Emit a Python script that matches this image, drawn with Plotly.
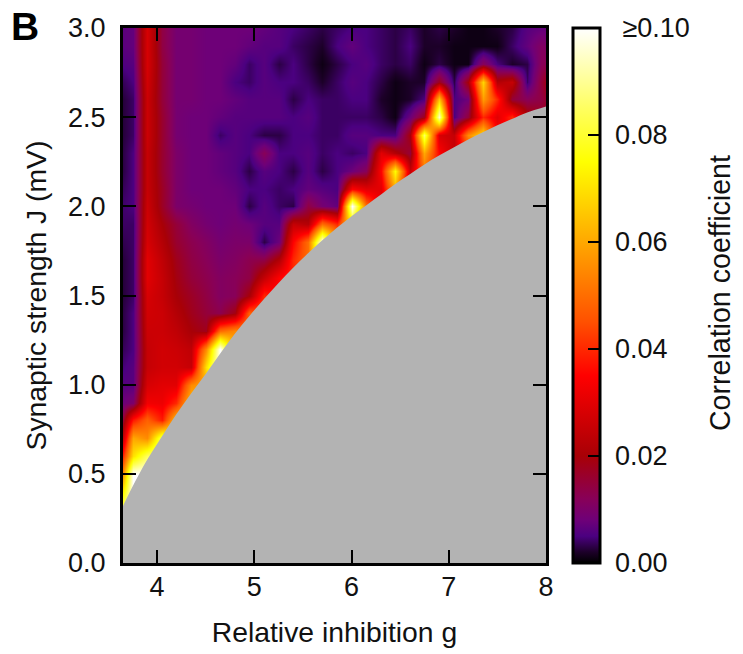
import numpy as np
import plotly.graph_objects as go

# Relative inhibition g (columns) and synaptic strength J (rows, top to bottom)
g_values = [3.6,3.75,3.9,4.05,4.2,4.35,4.5,4.65,4.8,4.95,5.1,5.25,5.4,5.55,5.7,5.85,6.0,6.15,6.3,6.45,6.6,6.75,6.9,7.05,7.2,7.35,7.5,7.65,7.8,7.95,8.1]
J_values = [3.0,2.9,2.8,2.7,2.6,2.5,2.4,2.3,2.2,2.1,2.0,1.9,1.8,1.7,1.6,1.5,1.4,1.3,1.2,1.1,1.0,0.9,0.8,0.7,0.6,0.5,0.4,0.3]

# Correlation coefficient x 1000
corr_milli = [
[6,7,28,14,9,9,8,8,8,8,7,6,5,4,3,4,5,5,4,3,4,2,3,2,1,1,2,3,6,7,7],
[6,7,28,14,9,9,8,8,8,7,6,6,4,3,2,5,7,5,4,3,5,2,2,1,1,1,1,4,7,11,10],
[5,6,28,15,9,9,8,8,7,4,6,3,5,3,1,3,5,6,4,3,4,1,3,1,1,12,5,2,3,12,14],
[3,5,27,15,9,9,8,8,5,4,6,5,5,4,2,4,6,5,3,1,2,2,18,3,20,68,22,25,4,15,25],
[2,4,26,15,9,9,8,8,7,6,6,6,3,5,4,4,5,5,2,1,2,5,65,5,8,58,40,15,12,14,20],
[2,4,26,16,9,8,8,7,6,6,6,6,5,6,4,4,4,4,3,1,8,18,95,5,15,40,30,40,22,18,18],
[2,4,26,16,9,8,8,4,6,5,3,3,5,5,4,4,6,6,5,5,20,85,28,25,55,70,35,35,25,20,20],
[2,5,25,16,10,8,8,7,6,5,12,5,5,6,4,5,4,5,30,22,15,60,35,25,40,55,35,35,25,20,20],
[2,5,25,16,10,8,8,7,6,3,6,5,3,6,3,5,8,12,35,75,25,50,35,25,40,55,35,35,25,20,20],
[3,5,25,17,10,8,8,8,7,5,5,4,5,7,6,5,35,30,30,60,25,50,35,25,40,55,35,35,25,20,20],
[4,5,26,17,10,9,8,8,8,3,6,4,3,14,9,7,100,50,30,60,25,50,35,25,40,55,35,35,25,20,20],
[4,4,27,20,15,11,9,8,9,8,6,6,25,22,50,40,70,50,30,60,25,50,35,25,40,55,35,35,25,20,20],
[3,4,28,22,16,13,11,9,10,10,3,8,35,50,100,60,70,50,30,60,25,50,35,25,40,55,35,35,25,20,20],
[2,4,30,24,18,14,12,10,11,13,14,22,40,50,100,60,70,50,30,60,25,50,35,25,40,55,35,35,25,20,20],
[2,4,30,25,19,15,13,11,12,14,25,35,40,50,100,60,70,50,30,60,25,50,35,25,40,55,35,35,25,20,20],
[2,4,28,25,20,17,14,11,12,20,40,35,40,50,100,60,70,50,30,60,25,50,35,25,40,55,35,35,25,20,20],
[2,5,27,26,22,18,15,13,19,48,45,35,40,50,100,60,70,50,30,60,25,50,35,25,40,55,35,35,25,20,20],
[2,5,26,26,24,20,18,50,55,50,45,35,40,50,100,60,70,50,30,60,25,50,35,25,40,55,35,35,25,20,20],
[3,5,25,27,26,24,55,100,60,50,45,35,40,50,100,60,70,50,30,60,25,50,35,25,40,55,35,35,25,20,20],
[4,6,25,27,27,25,70,100,60,50,45,35,40,50,100,60,70,50,30,60,25,50,35,25,40,55,35,35,25,20,20],
[6,6,28,30,30,55,60,100,60,50,45,35,40,50,100,60,70,50,30,60,25,50,35,25,40,55,35,35,25,20,20],
[7,10,33,32,40,65,60,100,60,50,45,35,40,50,100,60,70,50,30,60,25,50,35,25,40,55,35,35,25,20,20],
[5,38,48,38,65,65,60,100,60,50,45,35,40,50,100,60,70,50,30,60,25,50,35,25,40,55,35,35,25,20,20],
[8,60,55,85,70,65,60,100,60,50,45,35,40,50,100,60,70,50,30,60,25,50,35,25,40,55,35,35,25,20,20],
[25,70,85,90,70,65,60,100,60,50,45,35,40,50,100,60,70,50,30,60,25,50,35,25,40,55,35,35,25,20,20],
[35,100,100,90,70,65,60,100,60,50,45,35,40,50,100,60,70,50,30,60,25,50,35,25,40,55,35,35,25,20,20],
[60,100,100,90,70,65,60,100,60,50,45,35,40,50,100,60,70,50,30,60,25,50,35,25,40,55,35,35,25,20,20],
[80,100,100,90,70,65,60,100,60,50,45,35,40,50,100,60,70,50,30,60,25,50,35,25,40,55,35,35,25,20,20],
]

# Edge of the grey (excluded) region
boundary_g = [3.65,3.75,3.9,4.05,4.2,4.35,4.5,4.65,4.8,4.95,5.1,5.25,5.4,5.55,5.7,5.85,6.0,6.15,6.3,6.45,6.6,6.75,6.9,7.05,7.2,7.35,7.5,7.65,7.8,8.0]
boundary_J = [0.32,0.43,0.58,0.71,0.835,0.95,1.06,1.175,1.285,1.385,1.48,1.57,1.655,1.735,1.81,1.88,1.945,2.005,2.065,2.125,2.18,2.235,2.285,2.33,2.375,2.415,2.455,2.49,2.525,2.56]

x_ticks = [4,5,6,7,8]
y_ticks = [0,0.5,1,1.5,2,2.5,3]
y_labels = ["0.0","0.5","1.0","1.5","2.0","2.5","3.0"]
cb_ticks = [0,0.02,0.04,0.06,0.08,0.1]
cb_labels = ["\u00a00.00","\u00a00.02","\u00a00.04","\u00a00.06","\u00a00.08","\u00a0\u00a0≥0.10"]

colors = [[0,"#000000"],[0.02,"#1c0028"],[0.05,"#4b0080"],[0.08,"#6e0078"],[0.12,"#880058"],[0.2,"#a80006"],
          [0.35,"#ff0000"],[0.45,"#ff5000"],[0.6,"#ffa800"],[0.75,"#ffff00"],[0.85,"#ffff60"],[1,"#ffffff"]]
FONT = "Liberation Sans, Arial, sans-serif"

fig = go.Figure()
fig.add_trace(go.Heatmap(
    x=g_values, y=J_values, z=np.array(corr_milli)/1000, zmin=0, zmax=0.1,
    zsmooth="best", colorscale=colors, hoverinfo="skip",
    colorbar=dict(x=1.0635, xanchor="left", xpad=0, y=0, yanchor="bottom", ypad=0,
                  len=1, lenmode="fraction", thickness=27, thicknessmode="pixels",
                  outlinecolor="black", outlinewidth=3,
                  ticks="inside", ticklen=13, tickwidth=1.5, tickcolor="black",
                  tickmode="array", tickvals=cb_ticks, ticktext=cb_labels,
                  tickfont=dict(family=FONT, size=27, color="#111"))))
fig.add_trace(go.Scatter(x=boundary_g, y=boundary_J, mode="lines", fill="tozeroy",
                         line=dict(color="#b3b3b3", width=0, shape="spline"),
                         fillcolor="#b3b3b3", showlegend=False, hoverinfo="skip"))

axis = dict(showline=True, linecolor="black", linewidth=3, mirror="allticks", ticks="inside",
            ticklen=13, tickwidth=1.5, tickcolor="black", showgrid=False, zeroline=False,
            tickfont=dict(family=FONT, size=27, color="#111"), layer="above traces")
fig.update_layout(
    width=743, height=654, margin=dict(l=123, r=197, t=28, b=91), paper_bgcolor="white",
    plot_bgcolor="white", showlegend=False,
    xaxis=dict(axis, range=[3.65,8], tickmode="array", tickvals=x_ticks, ticktext=[str(t) for t in x_ticks],
               ticklabelstandoff=-2,
               title=dict(text="Relative inhibition g", font=dict(family=FONT, size=28.3, color="#111"), standoff=21)),
    yaxis=dict(axis, range=[0,3], tickmode="array", tickvals=y_ticks, ticktext=y_labels,
               ticklabelstandoff=9,
               title=dict(text="Synaptic strength J (mV)", font=dict(family=FONT, size=28.3, color="#111"), standoff=14)),
    annotations=[
        dict(text="<b>B</b>", xref="paper", yref="paper", x=-0.27, y=1.002, xanchor="left", yanchor="middle",
             showarrow=False, font=dict(family=FONT, size=39, color="black")),
        dict(text="Correlation coefficient", xref="paper", yref="paper", x=1.412, y=0.505, textangle=-90,
             xanchor="center", yanchor="middle", showarrow=False,
             font=dict(family=FONT, size=28.6, color="#111")),
    ],
)
fig.write_html("out.html", post_script="document.body.style.margin='0';", config={"displayModeBar": False})
